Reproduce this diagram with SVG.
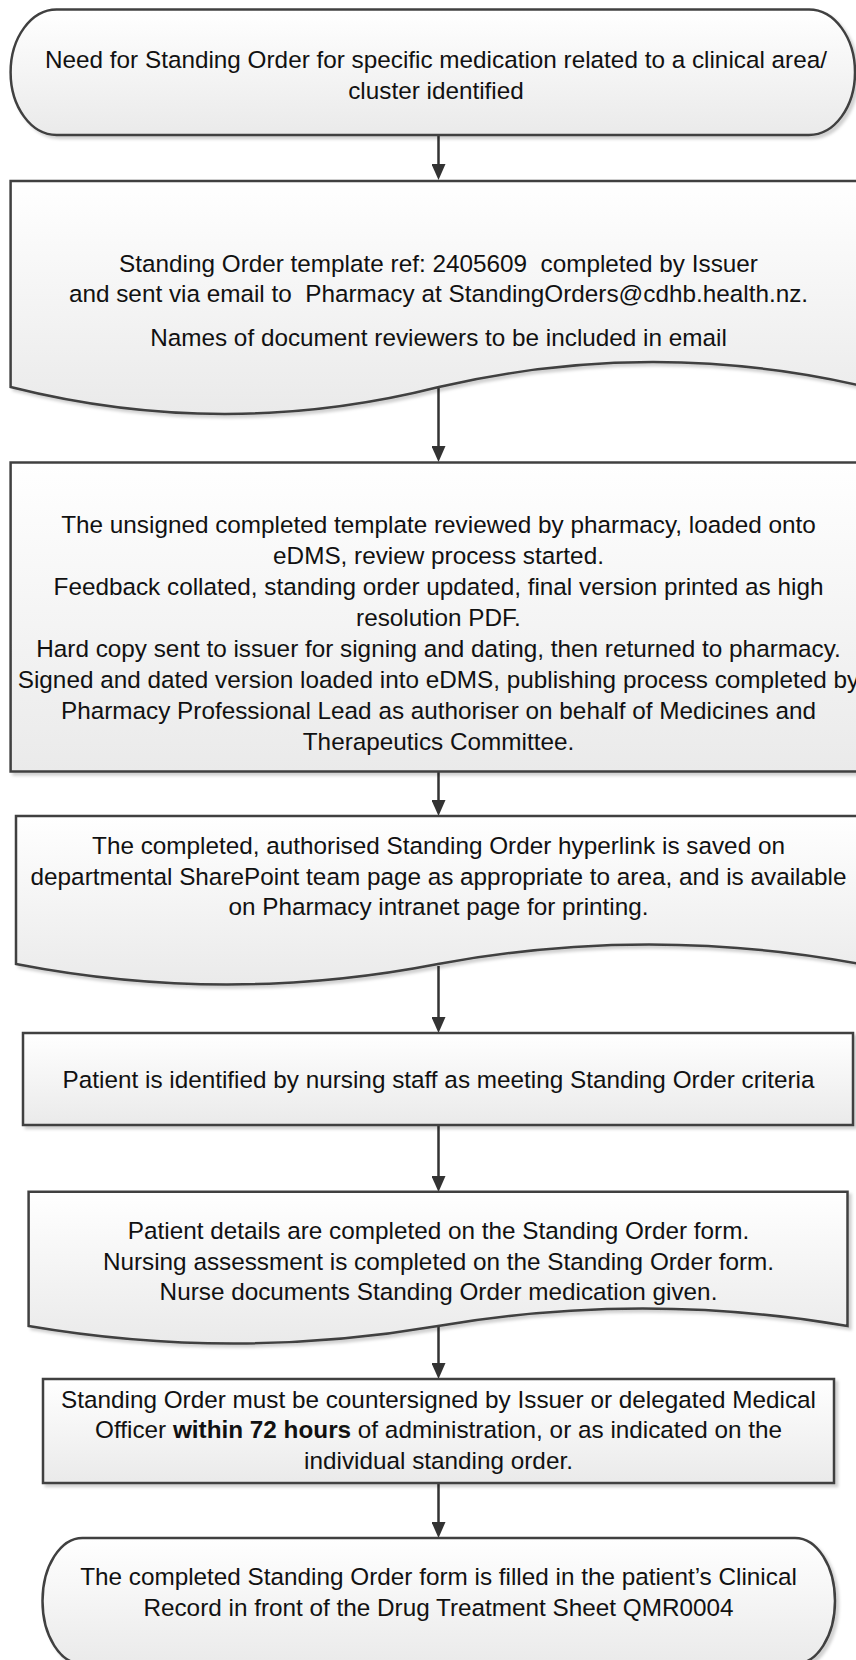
<svg xmlns="http://www.w3.org/2000/svg" width="856" height="1660" viewBox="0 0 856 1660">
<defs>
<linearGradient id="g" x1="0" y1="0" x2="0" y2="1">
<stop offset="0" stop-color="#ffffff"/>
<stop offset="1" stop-color="#eaeaea"/>
</linearGradient>
<filter id="sh" x="-5%" y="-5%" width="110%" height="115%">
<feDropShadow dx="3" dy="3" stdDeviation="1.5" flood-color="#000" flood-opacity="0.18"/>
</filter>
<marker id="arr" markerWidth="16" markerHeight="14" refX="12" refY="7" orient="auto" markerUnits="userSpaceOnUse">
<path d="M0,0 L16,7 L0,14 Z" fill="#333333"/>
</marker>
</defs>
<style>
.s{fill:url(#g);stroke:#404040;stroke-width:2.5;filter:url(#sh)}
.t{font-family:"Liberation Sans",Arial,sans-serif;font-size:24.3px;fill:#111;text-anchor:middle}
.c{stroke:#333333;stroke-width:2.5;fill:none;marker-end:url(#arr)}
</style>
<g id="connectors">
<line class="c" x1="438.5" y1="135" x2="438.5" y2="176"/>
<line class="c" x1="438.5" y1="387" x2="438.5" y2="458"/>
<line class="c" x1="438.5" y1="771.5" x2="438.5" y2="812"/>
<line class="c" x1="438.5" y1="966" x2="438.5" y2="1029"/>
<line class="c" x1="438.5" y1="1125" x2="438.5" y2="1188"/>
<line class="c" x1="438.5" y1="1326" x2="438.5" y2="1375"/>
<line class="c" x1="438.5" y1="1483" x2="438.5" y2="1534"/>
</g>
<g id="n1">
<path class="s" d="M56.6,9.5 H809 A46,62.75 0 0 1 809,135 H56.6 A46,62.75 0 0 1 56.6,9.5 Z"/>
<text class="t" x="436" y="68">Need for Standing Order for specific medication related to a clinical area/</text>
<text class="t" x="436" y="98.5">cluster identified</text>
</g>
<g id="n2">
<path class="s" d="M10.6,181 H867 V387 Q653,337 438.8,387 Q224.7,441 10.6,387 Z"/>
<text class="t" x="438.5" y="271.5" xml:space="preserve">Standing Order template ref: 2405609  completed by Issuer</text>
<text class="t" x="438.5" y="301.5" xml:space="preserve">and sent via email to  Pharmacy at StandingOrders@cdhb.health.nz.</text>
<text class="t" x="438.5" y="345.5">Names of document reviewers to be included in email</text>
</g>
<g id="n3">
<rect class="s" x="10.6" y="462.5" width="856.4" height="309"/>
<text class="t" x="438.5" y="533">The unsigned completed template reviewed by pharmacy, loaded onto</text>
<text class="t" x="438.5" y="564">eDMS, review process started.</text>
<text class="t" x="438.5" y="595">Feedback collated, standing order updated, final version printed as high</text>
<text class="t" x="438.5" y="626">resolution PDF.</text>
<text class="t" x="438.5" y="657">Hard copy sent to issuer for signing and dating, then returned to pharmacy.</text>
<text class="t" x="438.5" y="688">Signed and dated version loaded into eDMS, publishing process completed by</text>
<text class="t" x="438.5" y="719">Pharmacy Professional Lead as authoriser on behalf of Medicines and</text>
<text class="t" x="438.5" y="750">Therapeutics Committee.</text>
</g>
<g id="n4">
<path class="s" d="M16,816 H860 V964 Q649,925 438,964 Q227,1005 16,964 Z"/>
<text class="t" x="438.5" y="854">The completed, authorised Standing Order hyperlink is saved on</text>
<text class="t" x="438.5" y="884.5">departmental SharePoint team page as appropriate to area, and is available</text>
<text class="t" x="438.5" y="915">on Pharmacy intranet page for printing.</text>
</g>
<g id="n5">
<rect class="s" x="23" y="1033" width="830" height="92"/>
<text class="t" x="438.5" y="1088">Patient is identified by nursing staff as meeting Standing Order criteria</text>
</g>
<g id="n6">
<path class="s" d="M28.6,1191.7 H847.5 V1326 Q642.8,1291 438,1326 Q233.3,1361 28.6,1326 Z"/>
<text class="t" x="438.5" y="1239">Patient details are completed on the Standing Order form.</text>
<text class="t" x="438.5" y="1269.5">Nursing assessment is completed on the Standing Order form.</text>
<text class="t" x="438.5" y="1300">Nurse documents Standing Order medication given.</text>
</g>
<g id="n7">
<rect class="s" x="43" y="1379" width="791" height="104"/>
<text class="t" x="438.5" y="1407.5">Standing Order must be countersigned by Issuer or delegated Medical</text>
<text class="t" x="438.5" y="1438">Officer <tspan font-weight="bold">within 72 hours</tspan> of administration, or as indicated on the</text>
<text class="t" x="438.5" y="1468.5">individual standing order.</text>
</g>
<g id="n8">
<path class="s" d="M82.5,1538 H795 A40,63 0 0 1 795,1664 H82.5 A40,63 0 0 1 82.5,1538 Z"/>
<text class="t" x="438.5" y="1585">The completed Standing Order form is filled in the patient’s Clinical</text>
<text class="t" x="438.5" y="1615.5">Record in front of the Drug Treatment Sheet QMR0004</text>
</g>
</svg>
